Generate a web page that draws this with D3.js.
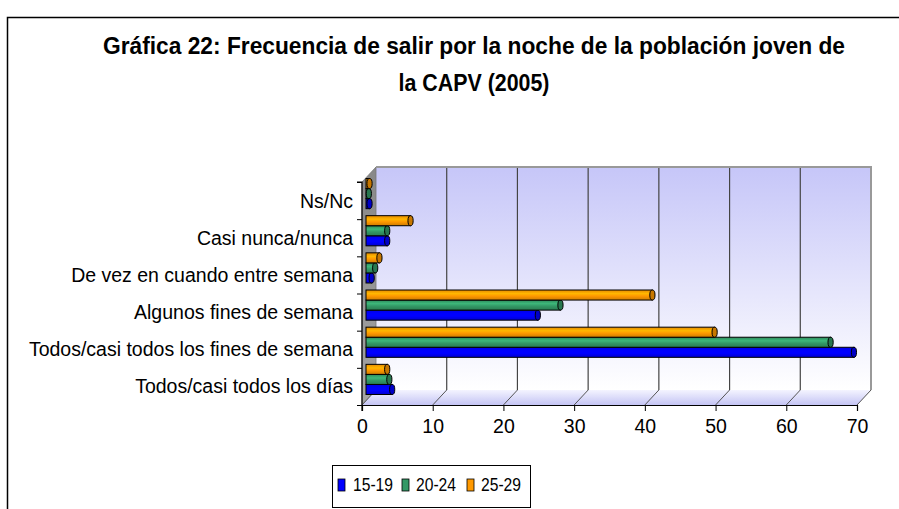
<!DOCTYPE html>
<html>
<head>
<meta charset="utf-8">
<script src="https://cdn.jsdelivr.net/npm/d3@7"></script>
<style>
  body { margin: 0; background: #fff; }
  text { font-family: "Liberation Sans", Arial, sans-serif; fill: #000; }
</style>
</head>
<body>
<svg width="899" height="509"></svg>
<script>
// data, bottom category first
var categories = ["Todos/casi todos los días", "Todos/casi todos los fines de semana",
  "Algunos fines de semana", "De vez en cuando entre semana", "Casi nunca/nunca", "Ns/Nc"];
var series = ["15-19", "20-24", "25-29"];
var colors = ["#0000ff", "#339966", "#ff9900"];
var v1519 = [3.7, 69.0, 24.3, 0.8, 3.0, 0.5];
var v2024 = [3.3, 65.7, 27.5, 1.3, 3.0, 0.4];
var v2529 = [3.0, 49.3, 40.5, 1.9, 6.3, 0.5];
var xTicks = [0, 10, 20, 30, 40, 50, 60, 70];
var titleLines = ["Gráfica 22: Frecuencia de salir por la noche de la población joven de", "la CAPV (2005)"];

var values = [v1519, v2024, v2529];

var svg = d3.select("svg");
var defs = svg.append("defs");

// chart frame
svg.append("path")
  .attr("d", "M7.5,520 L7.5,17.5 L905,17.5")
  .attr("fill", "none").attr("stroke", "#000").attr("stroke-width", 1.5);

// title
svg.selectAll(".title").data(titleLines).enter().append("text")
  .attr("class", "title")
  .attr("x", 474).attr("y", function (d, i) { return 54 + i * 37; })
  .attr("text-anchor", "middle")
  .attr("font-size", 23).attr("font-weight", "bold")
  .attr("textLength", function (d, i) { return i == 0 ? 742 : 151; })
  .attr("lengthAdjust", "spacingAndGlyphs")
  .text(function (d) { return d; });

// 3d plot geometry
var pLeft = 362, pRight = 857, pTop = 182, pBottom = 405;
var dx = 14, dy = -15;

var x = d3.scaleLinear().domain([0, 70]).range([pLeft, pRight]);
var yc = d3.scaleBand().domain(categories).range([pBottom, pTop]);
var yLin = d3.scaleLinear().domain([0, categories.length]).range([pBottom, pTop]);

// gradients
var wallGrad = defs.append("linearGradient").attr("id", "wall")
  .attr("x1", 0).attr("y1", 0).attr("x2", 0).attr("y2", 1);
wallGrad.append("stop").attr("offset", "0%").attr("stop-color", "#c6c6f8");
wallGrad.append("stop").attr("offset", "100%").attr("stop-color", "#ffffff");

var floorGrad = defs.append("linearGradient").attr("id", "floor")
  .attr("x1", 0).attr("y1", 0).attr("x2", 0).attr("y2", 1);
floorGrad.append("stop").attr("offset", "0%").attr("stop-color", "#f4f4ff");
floorGrad.append("stop").attr("offset", "100%").attr("stop-color", "#c4c4f4");

var sideGrad = defs.append("linearGradient").attr("id", "side")
  .attr("x1", 0).attr("y1", 0).attr("x2", 0).attr("y2", 1);
sideGrad.append("stop").attr("offset", "0%").attr("stop-color", "#888");
sideGrad.append("stop").attr("offset", "100%").attr("stop-color", "#a4a4a4");

colors.forEach(function (c, i) {
  var g = defs.append("linearGradient").attr("id", "bar" + i)
    .attr("x1", 0).attr("y1", 0).attr("x2", 0).attr("y2", 1);
  var base = d3.color(c);
  g.append("stop").attr("offset", "0%").attr("stop-color", base.darker(0.3));
  g.append("stop").attr("offset", "35%").attr("stop-color", base.brighter(0.5));
  g.append("stop").attr("offset", "60%").attr("stop-color", base);
  g.append("stop").attr("offset", "100%").attr("stop-color", base.darker(0.6));
});

// back wall
svg.append("rect")
  .attr("x", pLeft + dx).attr("y", pTop + dy)
  .attr("width", x(70) - x(0)).attr("height", pBottom - pTop)
  .attr("fill", "url(#wall)");

// side wall
svg.append("path")
  .attr("d", "M" + pLeft + "," + pTop + " L" + (pLeft + dx) + "," + (pTop + dy) +
    " L" + (pLeft + dx) + "," + (pBottom + dy) + " L" + pLeft + "," + pBottom + "Z")
  .attr("fill", "url(#side)").attr("stroke", "#777").attr("stroke-width", 0.8);

// floor
svg.append("path")
  .attr("d", "M" + pLeft + "," + pBottom + " L" + (pLeft + dx) + "," + (pBottom + dy) +
    " L" + (pRight + dx) + "," + (pBottom + dy) + " L" + pRight + "," + pBottom + "Z")
  .attr("fill", "url(#floor)");

// gridlines on back wall
svg.selectAll(".grid").data(xTicks.slice(1, -1)).enter().append("line")
  .attr("class", "grid")
  .attr("x1", function (d) { return x(d) + dx; }).attr("x2", function (d) { return x(d) + dx; })
  .attr("y1", pTop + dy).attr("y2", pBottom + dy)
  .attr("stroke", "#444").attr("stroke-width", 1.2);

// floor diagonals
svg.selectAll(".diag").data(xTicks).enter().append("line")
  .attr("class", "diag")
  .attr("x1", function (d) { return x(d); }).attr("x2", function (d) { return x(d) + dx; })
  .attr("y1", pBottom).attr("y2", pBottom + dy)
  .attr("stroke", "#555").attr("stroke-width", 1);

// wall outline (top + right)
svg.append("path")
  .attr("d", "M" + (pLeft + dx) + "," + (pTop + dy) + " L" + (pRight + dx) + "," + (pTop + dy) +
    " L" + (pRight + dx) + "," + (pBottom + dy))
  .attr("fill", "none").attr("stroke", "#999").attr("stroke-width", 2);

// bars as cylinders
var inner = d3.scaleBand().domain(series).range([yc.bandwidth() - 3.5, 3.5]);
var bh = inner.bandwidth();
var bx = 4, by = -7;

series.forEach(function (s, si) {
  var g = svg.append("g").attr("class", "series");
  var rows = categories.map(function (c, ci) { return { cat: c, v: values[si][ci] }; });
  var bar = g.selectAll("g").data(rows).enter().append("g")
    .attr("transform", function (d) {
      return "translate(0," + (yc(d.cat) + inner(s) + by) + ")";
    });
  bar.append("rect")
    .attr("x", x(0) + bx)
    .attr("width", function (d) { return x(d.v) - x(0); })
    .attr("height", bh)
    .attr("fill", "url(#bar" + si + ")")
    .attr("stroke", "#000").attr("stroke-width", 1);
  bar.append("ellipse")
    .attr("cx", function (d) { return x(d.v) + bx; })
    .attr("cy", bh / 2)
    .attr("rx", 2.6).attr("ry", bh / 2)
    .attr("fill", d3.color(colors[si]).darker(0.7))
    .attr("stroke", "#000").attr("stroke-width", 1);
});

// axes
var xAxis = svg.append("g")
  .attr("transform", "translate(0," + pBottom + ")")
  .call(d3.axisBottom(x).tickValues(xTicks).tickSize(6).tickPadding(8));
xAxis.select(".domain").attr("stroke", "#000").attr("stroke-width", 1.2);
xAxis.selectAll(".tick line").attr("stroke", "#000");
xAxis.selectAll("text").attr("font-size", 19.5).attr("font-family", "Liberation Sans, Arial, sans-serif");

var yAxis = svg.append("g")
  .attr("transform", "translate(" + pLeft + ",0)")
  .call(d3.axisLeft(yLin).ticks(6).tickSize(5).tickFormat(""));
yAxis.select(".domain").attr("stroke", "#000").attr("stroke-width", 1.2)
  .attr("d", "M-5," + pTop + "H0V" + (pBottom + 6));
yAxis.selectAll(".tick line").attr("stroke", "#000");

// category labels
svg.selectAll(".cat").data(categories).enter().append("text")
  .attr("class", "cat")
  .attr("x", 353)
  .attr("y", function (d) { return yc(d) + yc.bandwidth() / 2; })
  .attr("dy", "0.36em")
  .attr("text-anchor", "end")
  .attr("font-size", 19.5)
  .text(function (d) { return d; });

// legend
var legend = svg.append("g");
legend.append("rect")
  .attr("x", 332.5).attr("y", 465.5).attr("width", 198).attr("height", 42)
  .attr("fill", "#fff").attr("stroke", "#000").attr("stroke-width", 1);
var legX = [338, 402, 467];
var item = legend.selectAll(".leg").data(series).enter().append("g")
  .attr("transform", function (d, i) { return "translate(" + legX[i] + ",479)"; });
item.append("rect")
  .attr("width", 7).attr("height", 12)
  .attr("fill", function (d, i) { return colors[i]; })
  .attr("stroke", "#000").attr("stroke-width", 0.8);
item.append("text")
  .attr("x", function (d, i) { return i == 0 ? 15 : 14; }).attr("y", 6)
  .attr("dy", "0.36em")
  .attr("font-size", 18)
  .attr("textLength", 40).attr("lengthAdjust", "spacingAndGlyphs")
  .text(function (d) { return d; });
</script>
</body>
</html>
